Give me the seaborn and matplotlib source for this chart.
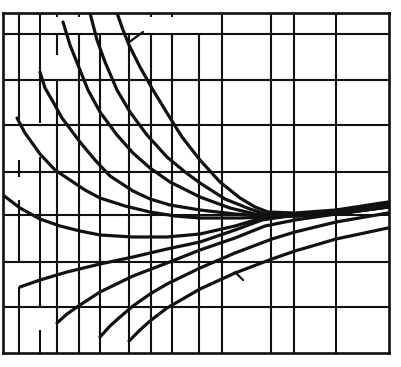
import numpy as np
import pandas as pd
import seaborn as sns
import matplotlib
matplotlib.use("Agg")
import matplotlib.pyplot as plt

# ---- data (chart units: x = distance from left frame, y = height above bottom frame) ----
d1_x = [114, 120, 126, 137, 150, 164, 179, 197, 217, 237, 252, 265, 292, 333, 385]
d1_y = [340, 323, 308, 286, 263, 240, 216, 193, 171, 155, 146, 141, 140, 143, 151]
d2_x = [87, 94, 102, 114, 127, 144, 164, 182, 197, 222, 247, 262, 292, 333, 385]
d2_y = [340, 313, 291, 263, 241, 218, 196, 181, 170, 154, 144, 139, 139, 142, 149]
d3_x = [60, 67, 75, 85, 97, 114, 130, 147, 167, 197, 227, 252, 265, 292, 333, 385]
d3_y = [331, 308, 288, 263, 241, 218, 200, 185, 171, 156, 145, 139, 137, 138, 141, 148]
d4_x = [37, 42, 49, 59, 77, 92, 107, 130, 147, 167, 197, 232, 262, 292, 333, 385]
d4_y = [281, 265, 253, 235, 211, 193, 177, 162, 154, 148, 143, 139, 137, 137, 140, 147]
d5_x = [14, 22, 37, 52, 64, 82, 97, 122, 147, 172, 197, 237, 262, 292, 333, 385]
d5_y = [235, 220, 199, 183, 175, 163, 155, 147, 141, 137, 135, 135, 136, 137, 139, 146]
d6_x = [0, 17, 37, 57, 77, 97, 130, 164, 197, 232, 259, 292, 333, 385]
d6_y = [158, 145, 134, 127, 122, 118, 116, 116, 119, 127, 135, 137, 139, 146]
a1_x = [17, 37, 64, 97, 130, 164, 197, 232, 259, 292, 333, 385]
a1_y = [66, 73, 81, 89, 96, 104, 111, 123, 133, 138, 142, 149]
a2_x = [54, 64, 77, 97, 130, 164, 197, 232, 262, 292, 333, 385]
a2_y = [30, 39, 48, 61, 77, 90, 103, 115, 127, 133, 139, 146]
a3_x = [97, 107, 117, 130, 147, 164, 197, 232, 269, 292, 333, 385]
a3_y = [16, 27, 36, 47, 59, 69, 85, 100, 114, 121, 131, 140]
a4_x = [126, 137, 147, 164, 197, 232, 269, 292, 333, 385]
a4_y = [12, 23, 32, 45, 64, 80, 94, 102, 114, 125]

curves = {
    "D1": (d1_x, d1_y), "D2": (d2_x, d2_y), "D3": (d3_x, d3_y),
    "D4": (d4_x, d4_y), "D5": (d5_x, d5_y), "D6": (d6_x, d6_y),
    "A1": (a1_x, a1_y), "A2": (a2_x, a2_y), "A3": (a3_x, a3_y), "A4": (a4_x, a4_y),
}

# leader strokes
leader1_x = [125, 140]
leader1_y = [310, 321]
leader2_x = [232, 240]
leader2_y = [81, 73]

# grid
x_lim = (0, 385.5)
y_lim = (0, 340)
h_grid = [46, 91, 138, 181, 228, 273, 319]
v_grid = [15.5, 37, 53.5, 76, 96.5, 125.5, 147.5, 168.5, 196, 219, 268, 291, 333]
# vertical line segments (gaps as in the original drawing)
v_segments = {
    15.5: [(233, 340), (176, 193), (91, 153), (0, 66)],
    37: [(230, 340), (46, 196), (0, 23)],
    53.5: [(298, 319), (0, 273), (336, 340)],
    76: [(0, 319), (336, 340)],
    96.5: [(0, 319)],
    125.5: [(0, 319)],
    147.5: [(0, 319), (336, 340)],
    168.5: [(0, 319), (336, 340)],
    196: [(0, 319)],
}

# ---- figure ----
sns.set_style("white")
fig = plt.figure(figsize=(4.01, 3.67), dpi=100)
ax = fig.add_axes([3 / 401, 14 / 367, 385.5 / 401, 340 / 367])
ink = "#111111"

for xv in v_grid:
    segs = v_segments.get(xv, [(0, 340)])
    for lo, hi in segs:
        ax.vlines(xv, lo, hi, color=ink, lw=1.5, zorder=1)
ax.hlines(h_grid, x_lim[0], x_lim[1], color=ink, lw=1.5, zorder=1)

rows = []
for name, (xs, ys) in curves.items():
    for xv, yv in zip(xs, ys):
        rows.append({"curve": name, "x": xv, "y": yv})
df = pd.DataFrame(rows)
sns.lineplot(data=df, x="x", y="y", units="curve", estimator=None, sort=False,
             color=ink, lw=2.3, ax=ax, zorder=3)
sns.lineplot(x=leader1_x, y=leader1_y, color=ink, lw=1.6, ax=ax, sort=False, estimator=None)
sns.lineplot(x=leader2_x, y=leader2_y, color=ink, lw=1.6, ax=ax, sort=False, estimator=None)

ax.set_xlim(*x_lim)
ax.set_ylim(*y_lim)
ax.set_xticks([])
ax.set_yticks([])
ax.set_xlabel("")
ax.set_ylabel("")
for s in ax.spines.values():
    s.set_visible(True)
    s.set_color(ink)
    s.set_linewidth(1.9)

fig.savefig("out.png", dpi=100)
